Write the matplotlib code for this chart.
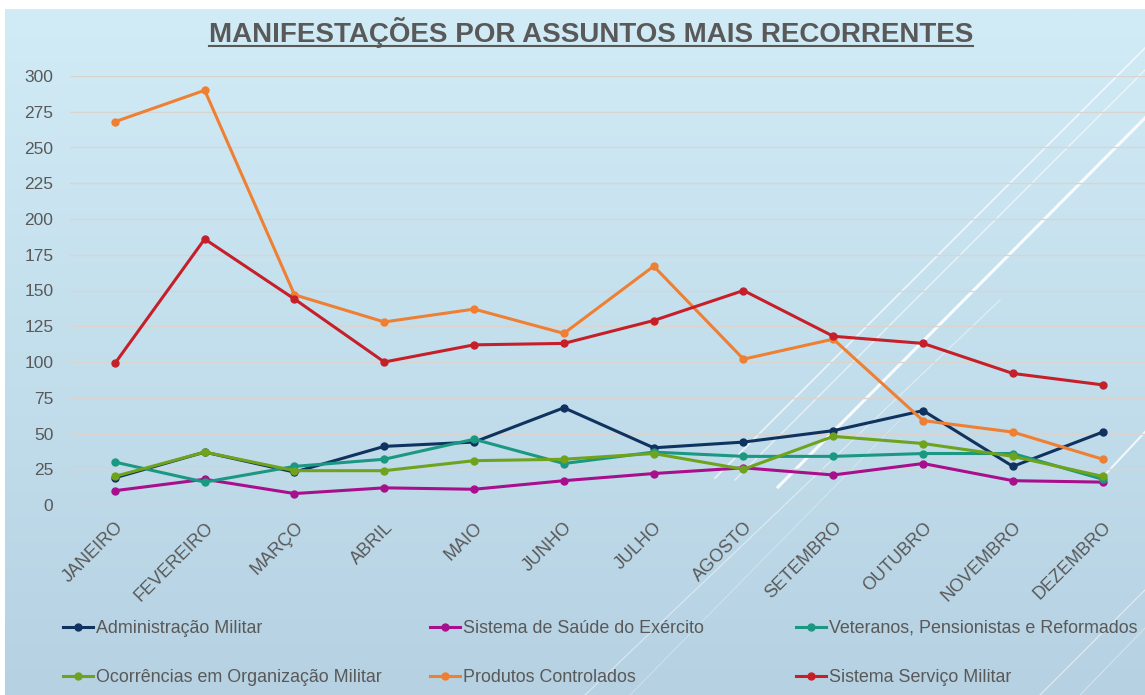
import matplotlib
matplotlib.use("Agg")
import matplotlib.pyplot as plt
import numpy as np
from matplotlib.lines import Line2D

plt.rcParams["font.family"] = ["Liberation Sans", "DejaVu Sans"]

meses = ["JANEIRO", "FEVEREIRO", "MARÇO", "ABRIL", "MAIO", "JUNHO",
         "JULHO", "AGOSTO", "SETEMBRO", "OUTUBRO", "NOVEMBRO", "DEZEMBRO"]

administracao = [19, 37, 23, 41, 44, 68, 40, 44, 52, 66, 27, 51]
saude = [10, 18, 8, 12, 11, 17, 22, 26, 21, 29, 17, 16]
veteranos = [30, 16, 27, 32, 46, 29, 37, 34, 34, 36, 36, 18]
ocorrencias = [20, 37, 24, 24, 31, 32, 36, 25, 48, 43, 34, 20]
produtos = [268, 290, 147, 128, 137, 120, 167, 102, 116, 59, 51, 32]
servico = [99, 186, 144, 100, 112, 113, 129, 150, 118, 113, 92, 84]

series = [
    ("Administração Militar", administracao, "#10325f"),
    ("Sistema de Saúde do Exército", saude, "#a80f8c"),
    ("Veteranos, Pensionistas e Reformados", veteranos, "#1b9882"),
    ("Ocorrências em Organização Militar", ocorrencias, "#6fa31d"),
    ("Produtos Controlados", produtos, "#ee7f33"),
    ("Sistema Serviço Militar", servico, "#c5202a"),
]

W, H = 1145, 695
TXT = "#595959"

fig = plt.figure(figsize=(W / 100, H / 100), dpi=100, facecolor="white")

# background gradient panel
bg = fig.add_axes([5 / W, 0, 1 - 5 / W, 1 - 9 / H])
bg.set_axis_off()
top = np.array([209, 236, 246]) / 255
bot = np.array([182, 209, 226]) / 255
t = np.linspace(0, 1, 256)[:, None]
grad = top * (1 - t)[:, :, None] + bot * t[:, :, None]
bg.imshow(np.repeat(grad, 4, axis=1), aspect="auto", extent=[0, 1, 0, 1], zorder=0)
bg.set_xlim(0, 1)
bg.set_ylim(0, 1)

# decorative diagonal stripes (pixel coords)
stripes = [
    ((715, 478), (1145, 48), 1.2, 0.7),
    ((735, 480), (1145, 70), 1.0, 0.6),
    ((778, 487), (1145, 118), 2.2, 0.9),
    ((585, 695), (1000, 300), 0.8, 0.5),
    ((630, 695), (900, 420), 0.6, 0.4),
    ((1040, 695), (1145, 590), 0.8, 0.6),
    ((1080, 695), (1145, 628), 0.6, 0.5),
    ((1100, 480), (1145, 432), 1.5, 0.8),
]
for (x0, y0), (x1, y1), lw, a in stripes:
    fig.add_artist(Line2D([x0 / W, x1 / W], [1 - y0 / H, 1 - y1 / H],
                          transform=fig.transFigure, color="white",
                          lw=lw, alpha=a, zorder=1))

# main axes
ax = fig.add_axes([70 / W, 1 - 505 / H, 1075 / W, 429 / H])
ax.patch.set_alpha(0)
ax.set_zorder(2)
x = np.arange(len(meses))
for label, vals, color in series:
    ax.plot(x, vals, color=color, lw=2.2, marker="o", markersize=5, label=label)

ax.set_xlim(-0.5, -0.5 + 1075 / 89.8)
ax.set_ylim(0, 300)
ax.set_yticks(np.arange(0, 301, 25))
ax.yaxis.grid(True, color="#d9d4d0", lw=1)
ax.set_axisbelow(True)
for s in ax.spines.values():
    s.set_visible(False)
ax.tick_params(axis="both", length=0, colors=TXT, labelsize=12.5)
ax.tick_params(axis="x", labelsize=13)
ax.tick_params(axis="y", pad=12)
ax.tick_params(axis="x", pad=10)
ax.set_xticks(x)
ax.set_xticklabels(meses, rotation=45, ha="right", va="top", rotation_mode="anchor")

# title with underline
title = fig.text(591 / W, 1 - 33 / H, "MANIFESTAÇÕES POR ASSUNTOS MAIS RECORRENTES",
                 ha="center", va="center", fontsize=20, fontweight="bold", color=TXT)
fig.canvas.draw()
bb = title.get_window_extent()
fig.add_artist(Line2D([bb.x0 / W, bb.x1 / W], [1 - 46 / H, 1 - 46 / H],
                      transform=fig.transFigure, color=TXT, lw=1.5))

# legend in three columns, two rows
handles, labels = ax.get_legend_handles_labels()
col_x = [63, 430, 796]
for c in range(3):
    idx = [c, c + 3]
    leg = fig.legend([handles[i] for i in idx], [labels[i] for i in idx],
                     loc="center left", bbox_to_anchor=(col_x[c] / W, 1 - 653 / H),
                     frameon=False, fontsize=12.9, handlelength=1.7,
                     handletextpad=0.15, labelspacing=1.8, borderpad=0,
                     borderaxespad=0)
    for txt in leg.get_texts():
        txt.set_color(TXT)

fig.savefig("out.png", dpi=100, facecolor=fig.get_facecolor())
